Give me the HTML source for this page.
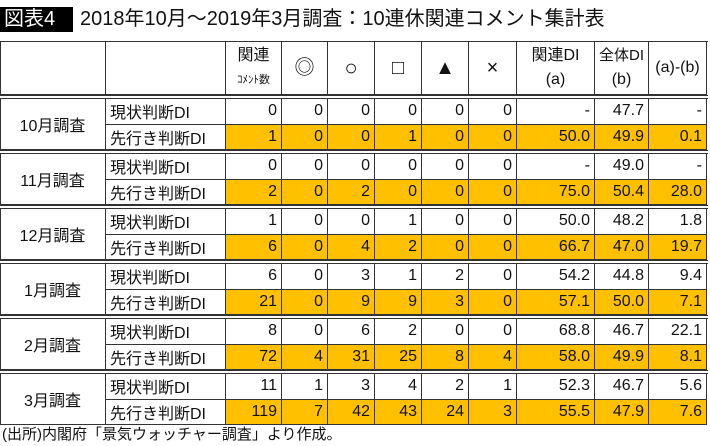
<!DOCTYPE html>
<html><head><meta charset="utf-8">
<style>
body{margin:0;width:710px;height:446px;background:#fff;position:relative;overflow:hidden;font-family:"Liberation Sans","Noto Sans CJK JP",sans-serif;color:#111}
.c{position:absolute;box-sizing:border-box;border-right:1px solid #333;border-bottom:1px solid #333;font-size:16px;display:flex;align-items:center;padding:0 4px;white-space:nowrap}
.r{justify-content:flex-end}.m{justify-content:center;text-align:center}
.h{flex-direction:column;justify-content:center;line-height:24px;padding:0 1px}
.o{background:#FFC000}
.sep{position:absolute;left:0;width:708px;height:4px;border-top:1px solid #333;border-bottom:1px solid #333;box-sizing:border-box;background:#fff}
</style></head><body>
<div style="position:absolute;left:0;top:7px;width:73px;height:25px;background:#000;color:#fff;font-size:20px;line-height:25px;padding-left:4px;box-sizing:border-box">図表4</div>
<div style="position:absolute;left:80px;top:6px;font-size:20px;line-height:26px">2018年10月～2019年3月調査：10連休関連コメント集計表</div>
<div id="tbl" style="position:absolute;left:0;top:41px;width:708px;height:384px;border-top:1px solid #333;border-left:1px solid #333;box-sizing:border-box"></div>
<div style="position:absolute;left:2px;top:425px;font-size:15px;line-height:20px">(出所)内閣府「景気ウォッチャー調査」より作成。</div>
<script>
const months=["10月調査","11月調査","12月調査","1月調査","2月調査","3月調査"];
const rowTypes=["現状判断DI","先行き判断DI"];
const headers=["<div>関連</div><div style='font-size:11px'>ｺﾒﾝﾄ数</div>","<div style='font-size:20px'>◎</div>","<div style='font-size:22px'>○</div>","<div style='font-size:20px'>□</div>","<div style='font-size:20px'>▲</div>","<div style='font-size:20px'>×</div>","<div>関連DI</div><div>(a)</div>","<div style='font-size:15px'>全体DI</div><div>(b)</div>","<div>(a)-(b)</div>"];
const related=[[0,1],[0,2],[1,6],[6,21],[8,72],[11,119]];
const dbl=[[0,0],[0,0],[0,0],[0,0],[0,4],[1,7]];
const circ=[[0,0],[0,2],[0,4],[3,9],[6,31],[3,42]];
const sq=[[0,1],[0,0],[1,2],[1,9],[2,25],[4,43]];
const tri=[[0,0],[0,0],[0,0],[2,3],[0,8],[2,24]];
const cross=[[0,0],[0,0],[0,0],[0,0],[0,4],[1,3]];
const relDI=[["-","50.0"],["-","75.0"],["50.0","66.7"],["54.2","57.1"],["68.8","58.0"],["52.3","55.5"]];
const allDI=[["47.7","49.9"],["49.0","50.4"],["48.2","47.0"],["44.8","50.0"],["46.7","49.9"],["46.7","47.9"]];
const diff=[["-","0.1"],["-","28.0"],["1.8","19.7"],["9.4","7.1"],["22.1","8.1"],["5.6","7.6"]];
const xs=[0,106,226,282,328,375,422,469,517,595,649,707];
const T=document.getElementById('tbl');
function cell(x0,x1,y,h,html,cls,name){
  const d=document.createElement('div');
  d.className='c '+cls;
  d.style.left=(x0-1)+'px';d.style.top=y+'px';d.style.width=(x1-x0)+'px';d.style.height=h+'px';
  d.innerHTML=html;
  
  
  T.appendChild(d);
}
const H=53;
cell(0,106,0,H,"","m","header-blank-1");
cell(106,226,0,H,"","m","header-blank-2");
headers.forEach((h,i)=>{cell(xs[i+2],xs[i+3],0,H,h,"m h","header-col-"+i);});
const cols=[related,dbl,circ,sq,tri,cross,relDI,allDI,diff];
months.forEach((m,g)=>{
  const top=H+g*55+4;
  const s=document.createElement('div');
  s.className='sep';s.style.top=(top-4)+'px';s.style.left='-1px';
  
  
  T.appendChild(s);
  cell(0,106,top,51,m,"m","month-label");
  rowTypes.forEach((rt,r)=>{
    const y=top+r*25.5;
    cell(106,226,y,25.5,rt,"","row-type-label");
    cols.forEach((arr,ci)=>{
      cell(xs[ci+2],xs[ci+3],y,25.5,String(arr[g][r]),"r"+(r?" o":""),"value-cell");
    });
  });
});
</script>
</body></html>
